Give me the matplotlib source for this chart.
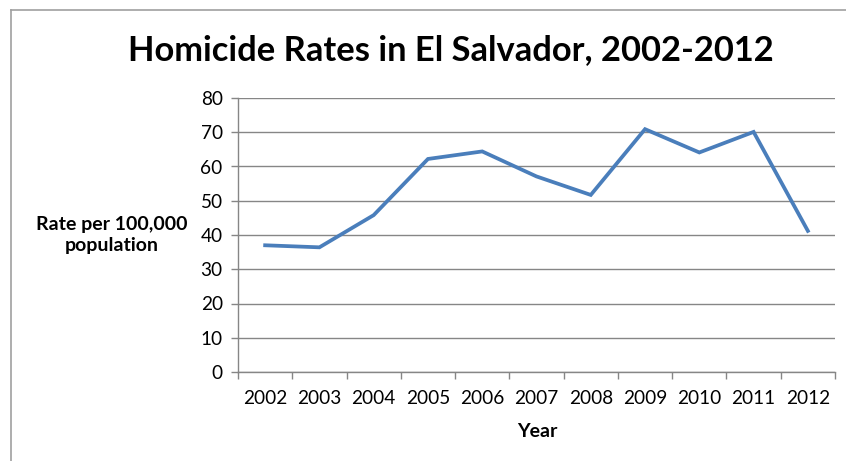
import matplotlib
matplotlib.use("Agg")
import matplotlib.pyplot as plt
from matplotlib.lines import Line2D

years = ["2002", "2003", "2004", "2005", "2006", "2007", "2008", "2009", "2010", "2011", "2012"]
rates = [37.0, 36.4, 45.8, 62.2, 64.4, 57.1, 51.7, 70.9, 64.1, 70.1, 41.2]
yticks = [0, 10, 20, 30, 40, 50, 60, 70, 80]

plt.rcParams['font.family'] = ['Lato', 'DejaVu Sans']

W, H = 846, 461
fig = plt.figure(figsize=(W / 100, H / 100), dpi=100)
fig.patch.set_facecolor('white')

ax = fig.add_axes([238 / W, 1 - 372 / H, (835 - 238) / W, (372 - 98) / H])

x = list(range(len(years)))
ax.plot(x, rates, color='#4a7ebb', linewidth=2.7, solid_joinstyle='miter', zorder=3)

ax.set_xlim(-0.5, len(years) - 0.5)
ax.set_ylim(0, 80)
ax.set_yticks(yticks)
ax.set_yticklabels([str(v) for v in yticks], fontsize=13.7)
ax.set_xticks(x)
ax.set_xticklabels(years, fontsize=13.7)
ax.tick_params(axis='x', which='major', length=0, pad=13)
ax.set_xticks([i - 0.5 for i in range(len(years) + 1)], minor=True)
ax.tick_params(axis='x', which='minor', length=5, width=1, color='#868686', direction='out')
ax.tick_params(axis='y', length=5, width=1, color='#868686', direction='out', pad=6)

ax.yaxis.grid(True, color='#868686', linewidth=1)
ax.set_axisbelow(True)
for s in ['top', 'right']:
    ax.spines[s].set_visible(False)
for s in ['left', 'bottom']:
    ax.spines[s].set_color('#868686')
    ax.spines[s].set_linewidth(1)

fig.text(451 / W, 1 - 50 / H, "Homicide Rates in El Salvador, 2002-2012",
         ha='center', va='center', fontsize=24.8, fontweight='bold')
fig.text(112 / W, 1 - 235 / H, "Rate per 100,000\npopulation",
         ha='center', va='center', fontsize=14, fontweight='bold', linespacing=1.25)
fig.text(537 / W, 1 - 431 / H, "Year", ha='center', va='center',
         fontsize=14, fontweight='bold')

fig.add_artist(Line2D([10.5 / W, 10.5 / W], [0, 1 - 10.5 / H], transform=fig.transFigure,
                      color='#a0a0a0', linewidth=1.2))
fig.add_artist(Line2D([10.5 / W, 1], [1 - 10.5 / H, 1 - 10.5 / H], transform=fig.transFigure,
                      color='#a0a0a0', linewidth=1.2))

fig.savefig("out.png", dpi=100)
